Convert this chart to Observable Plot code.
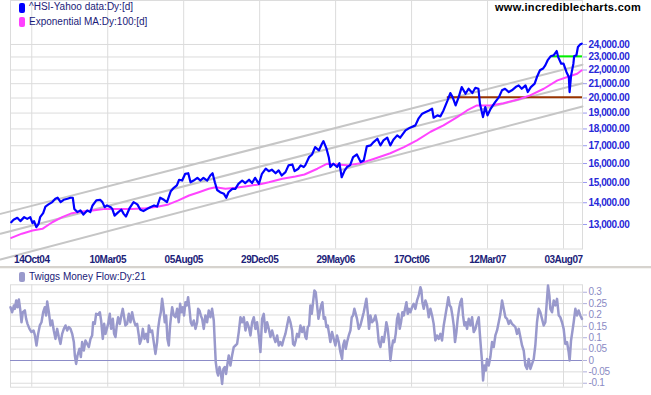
<!DOCTYPE html>
<html><head><meta charset="utf-8">
<script src="https://cdn.jsdelivr.net/npm/d3@7"></script>
<script src="https://cdn.jsdelivr.net/npm/@observablehq/plot@0.6"></script>
<style>
body{margin:0;background:#fff;width:651px;height:395px;overflow:hidden;position:relative;font-family:"Liberation Sans",Arial,sans-serif;}
#main{position:absolute;left:0;top:0;}
#tmfp{position:absolute;left:0;top:276px;}
.leg{position:absolute;font-size:10px;line-height:12px;color:#1a1a78;white-space:nowrap;z-index:5;}
.box{position:absolute;width:6px;height:10px;border-radius:2px;z-index:5;}
#wm{position:absolute;left:495px;top:1px;font-size:11px;line-height:13px;font-weight:bold;letter-spacing:0.3px;color:#000;z-index:5;}
#sep{position:absolute;left:0;top:266px;width:651px;height:2px;background:#d6d3ce;border-bottom:1px solid #f4f3f0;z-index:5;}
#main g[aria-label="y-axis tick label"] text{letter-spacing:-0.4px;}
#main g[aria-label="x-axis tick label"] text{letter-spacing:-0.5px;}
#tmfp g[aria-label="y-axis tick label"] text{letter-spacing:-0.3px;}
</style></head><body>
<div id="main"></div>
<div id="tmfp"></div>
<div id="sep"></div>
<div id="wm">www.incrediblecharts.com</div>
<div class="box" style="left:19px;top:3px;background:#0000ff"></div>
<div class="leg" style="left:29px;top:1px">^HSI-Yahoo data:Dy:[d]</div>
<div class="box" style="left:19px;top:17px;background:#ff40ff"></div>
<div class="leg" style="left:29px;top:15.5px">Exponential MA:Dy:100:[d]</div>
<div class="box" style="left:19px;top:272px;background:#9a9acc"></div>
<div class="leg" style="left:29px;top:270.5px">Twiggs Money Flow:Dy:21</div>
<script>
// ---- data (x = trading-day index) ----
const dayDomain = [0, 753];
const dateTicks = [28,128,228,328,428,528,628,728];
const dateLabels = ["14Oct04","10Mar05","05Aug05","29Dec05","29May06","17Oct06","12Mar07","03Aug07"];
const priceTicks = [13000,14000,15000,16000,17000,18000,19000,20000,21000,22000,23000,24000];
const tmfTicks = [-0.1,-0.05,0,0.05,0.1,0.15,0.2,0.25,0.3];

const price = [[1,13100],[4,13210],[9,13300],[13,13150],[18,13330],[22,13250],[26,13330],[29,13060],[31,13150],[34,12880],
[37,13030],[39,13330],[43,13510],[46,13820],[50,13920],[55,14030],[59,14190],[62,14240],[66,14030],[70,14140],
[75,14190],[79,14240],[82,14240],[84,13710],[88,13560],[92,13640],[96,13450],[101,13640],[105,13560],[108,13870],
[113,14110],[118,14140],[121,14030],[124,13790],[127,13870],[132,13790],[134,13710],[137,13400],[142,13560],[146,13670],
[149,13480],[152,13360],[157,13760],[162,14030],[167,13920],[171,13670],[175,13610],[180,13710],[184,13790],[189,13870],
[193,13820],[197,14240],[202,14140],[206,14030],[211,14560],[215,14730],[219,14850],[222,15140],[226,15100],[230,15450],
[234,15480],[237,15010],[241,15100],[246,15240],[250,15100],[254,15240],[259,15100],[263,15360],[266,15480],[269,15010],
[272,14620],[276,14510],[281,14430],[284,14240],[287,14510],[292,14680],[296,14680],[300,14930],[305,15100],[309,14970],
[314,15140],[318,14970],[322,15240],[327,14930],[331,15450],[336,15720],[340,15590],[344,15670],[349,15480],[353,15630],
[357,15360],[362,15540],[366,15900],[371,15950],[374,15590],[379,15720],[382,15900],[386,15810],[388,15900],[393,16350],
[397,16500],[401,16920],[406,16730],[410,17110],[412,17270],[416,16830],[419,16350],[421,15810],[425,15990],[430,15810],
[433,16020],[436,15270],[440,15630],[443,15810],[447,15900],[451,16350],[456,16500],[461,16080],[465,16160],[469,16960],
[474,17020],[478,17210],[483,17410],[487,17020],[491,17310],[496,17470],[500,17020],[504,17350],[509,17610],[513,17470],
[520,17910],[526,18080],[533,18220],[537,18640],[542,18960],[546,19060],[551,19170],[555,19280],[557,18700],[562,18850],
[566,18790],[570,19170],[575,19790],[579,20340],[582,20060],[586,19500],[590,20060],[594,20760],[599,20290],[603,20640],
[608,20340],[612,20710],[616,20640],[618,19610],[622,18740],[625,19390],[628,18850],[632,19280],[638,19720],[643,20060],
[647,20530],[651,20640],[656,20410],[660,20530],[665,20760],[669,20880],[673,20640],[678,20880],[681,20410],[685,20760],
[690,21000],[693,21480],[697,21980],[701,22110],[704,22350],[707,22730],[711,23050],[715,23130],[719,23470],[721,22990],
[725,22480],[728,22480],[732,21840],[735,21480],[736,20410],[738,21600],[741,22480],[742,23050],[745,23130],[747,23790],
[750,24010],[752,24060]];

const ema100 = [[1,12420],[15,12600],[29,12740],[42,12810],[55,13100],[68,13330],[81,13510],[94,13590],[108,13640],[125,13710],
[142,13710],[160,13710],[178,13740],[195,13820],[208,13920],[221,14110],[235,14350],[248,14510],[261,14680],[270,14760],
[283,14680],[296,14730],[309,14800],[327,14900],[340,15010],[358,15190],[375,15310],[387,15415],[404,15720],[417,15990],
[430,15950],[443,15900],[461,16020],[478,16250],[500,16570],[518,16920],[535,17310],[553,17830],[570,18220],[588,18740],
[601,19170],[614,19500],[632,19500],[649,19650],[667,19880],[684,20180],[702,20640],[720,21240],[733,21480],[746,21720],
[752,21980]];

const channelDays = [-13.2, 753];
const channelUpper = [13480, 22400];
const channelMiddle = [12600, 21030];
const channelLower = [11540, 19430];
const supportLevel = [20060];
const supportFrom = 575;
const resistanceLevel = [23050];
const resistanceFrom = 713;

const tmf = [[0,0.234],[2.2,0.212],[4.4,0.242],[5.7,0.227],[7.5,0.264],[9.2,0.234],[11,0.268],[12.7,0.227],[14.5,0.168],[16.2,0.212],
[18.9,0.220],[20.6,0.183],[22.4,0.161],[25,0.139],[27.6,0.125],[30.3,0.132],[32,0.113],[34.2,0.066],[36.4,0.117],[38.6,0.154],
[40.8,0.168],[43,0.212],[45.2,0.234],[46.9,0.198],[48.3,0.259],[50.5,0.212],[52.6,0.154],[54.8,0.176],[57,0.132],[59.2,0.095],
[61.4,0.139],[63.6,0.103],[65.8,0.073],[68,0.117],[70.2,0.139],[72.4,0.154],[74.6,0.132],[76.8,0.147],[79,0.139],[81.2,0.117],
[83.4,0.081],[84.7,0.022],[86.4,-0.015],[88.2,0.022],[90.8,0.051],[92.6,0.015],[94.3,0.081],[96.5,0.044],[98.7,0.088],[100.9,0.073],
[103.1,0.059],[105.3,0.095],[107.5,0.110],[108.8,0.168],[111,0.161],[112.7,0.205],[115.4,0.201],[117.6,0.212],[119.3,0.176],[121.5,0.095],
[123.3,0.161],[125,0.117],[126.8,0.139],[128.5,0.161],[130.7,0.205],[132.5,0.139],[134.7,0.183],[136.4,0.117],[138.2,0.103],[139.9,0.154],
[141.7,0.190],[143.9,0.161],[146.1,0.201],[147.8,0.227],[149.6,0.190],[151.3,0.154],[153.5,0.161],[155.7,0.205],[157.9,0.168],[160.1,0.212],
[162.3,0.176],[164.5,0.154],[166.7,0.161],[168.9,0.110],[170.2,0.073],[172.4,0.095],[174.2,0.139],[176.4,0.095],[178.6,0.117],[180.7,0.081],
[182.1,0.154],[184.3,0.125],[186.4,0.132],[188.6,0.081],[190.8,0.029],[193,0.081],[194.3,0.139],[196.1,0.183],[197.9,0.212],[199.6,0.271],
[201.4,0.227],[203.1,0.168],[204.9,0.198],[206.6,0.095],[208.4,0.066],[210.1,0.154],[211.5,0.198],[212.8,0.234],[215,0.198],[217.2,0.190],
[219.4,0.227],[221.5,0.168],[223.3,0.249],[225.1,0.212],[226.8,0.234],[228.5,0.198],[230.3,0.256],[232.1,0.242],[233.8,0.278],[235.6,0.227],
[237.3,0.168],[239.1,0.154],[241.3,0.176],[243.5,0.139],[245.7,0.168],[247,0.227],[248.7,0.220],[250.5,0.198],[252.3,0.183],[254.4,0.139],
[256.6,0.198],[258.8,0.168],[261,0.220],[263.2,0.190],[265.4,0.227],[267.6,0.176],[268.9,0.081],[270.2,-0.007],[272,-0.051],[273.3,-0.066],
[275.1,-0.029],[276.8,-0.051],[278.6,-0.103],[280.3,-0.037],[282.1,-0.029],[283.8,-0.059],[285.6,-0.015],[287.3,0.022],[289.5,-0.022],[291.7,0.022],
[293.9,0.059],[296.1,0.066],[298.3,0.073],[300.5,0.125],[302.7,0.190],[304.9,0.168],[307.1,0.190],[309.3,0.132],[311.5,0.168],[313.7,0.147],
[315.9,0.110],[318.1,0.168],[320.3,0.190],[322.4,0.139],[324.6,0.168],[326.8,0.110],[329,0.037],[331.2,0.183],[333.4,0.205],[335.6,0.125],
[337.8,0.168],[340,0.139],[342.2,0.103],[344.4,0.132],[346.6,0.103],[348.8,0.081],[351,0.110],[353.2,0.066],[355.3,0.081],[357.5,0.066],
[359.7,0.095],[361.9,0.117],[364.1,0.154],[366.3,0.190],[368.5,0.168],[370.7,0.132],[372,0.073],[373.8,0.066],[375.5,0.088],[377.3,0.117],
[379.5,0.103],[381.7,0.154],[383.9,0.125],[386,0.147],[388.2,0.103],[389.6,0.095],[391.3,0.147],[393.1,0.154],[394.8,0.242],[396.6,0.205],
[398.3,0.256],[400.1,0.308],[401.8,0.300],[403.6,0.242],[405.4,0.183],[407.1,0.212],[408.9,0.242],[410.6,0.256],[412.4,0.183],[414.1,0.190],
[415.9,0.147],[417.6,0.154],[419.4,0.117],[421.1,0.081],[423.3,0.125],[425.5,0.095],[427.7,0.066],[429.9,0.110],[432.1,0.081],[434.3,0.037],
[436.5,0.007],[437.8,0.066],[439.6,0.088],[441.3,0.051],[443.1,0.081],[445.3,0.110],[447.5,0.132],[449.2,0.190],[451,0.198],[452.7,0.227],
[454.5,0.205],[456.2,0.183],[458.4,0.139],[460.6,0.154],[462.8,0.183],[465,0.212],[467.2,0.249],[468.5,0.271],[470.3,0.212],[472,0.139],
[473.8,0.198],[476,0.168],[478.2,0.176],[480.4,0.198],[482.6,0.161],[484.8,0.081],[487,0.059],[489.1,0.103],[491.3,0.081],[493.5,0.132],
[494.8,0.168],[496.6,0.139],[498.4,0.081],[500.1,0.000],[501.9,0.051],[503.6,0.088],[505.4,0.081],[507.1,0.117],[508.9,0.183],[510.6,0.205],
[512.4,0.139],[514.1,0.168],[515.9,0.212],[517.7,0.198],[519.4,0.227],[521.2,0.256],[522.9,0.205],[524.7,0.227],[526.4,0.212],[528.6,0.234],
[530.8,0.249],[533,0.227],[535.2,0.264],[537.4,0.286],[539.6,0.322],[540.9,0.308],[542.2,0.256],[544,0.227],[546.2,0.264],[548.4,0.242],
[550.6,0.190],[552.8,0.227],[555,0.198],[557.1,0.161],[559.3,0.088],[561.5,0.110],[563.7,0.095],[565.9,0.117],[568.1,0.088],[570.3,0.154],
[572.5,0.198],[574.7,0.242],[576.4,0.278],[578.2,0.242],[579.9,0.234],[581.7,0.198],[583.5,0.154],[585.2,0.081],[587,0.125],[588.7,0.183],
[590.5,0.227],[592.2,0.256],[594,0.271],[595.7,0.198],[597.5,0.154],[599.3,0.168],[601,0.139],[603.2,0.183],[605.4,0.154],[607.6,0.190],
[609.8,0.125],[612,0.139],[614.2,0.168],[616.4,0.190],[617.7,0.125],[619.4,0.051],[620.8,-0.007],[622.1,-0.088],[623.8,-0.022],[625.6,-0.044],
[627.3,0.007],[629.5,-0.022],[631.7,0.015],[633.9,0.081],[636.1,0.059],[638.3,0.110],[640.5,0.132],[642.7,0.168],[644.9,0.205],[647.1,0.264],
[649.3,0.227],[651.5,0.190],[653.7,0.183],[655.8,0.161],[658,0.176],[660.2,0.161],[662.4,0.154],[664.6,0.147],[666.8,0.117],[669,0.139],
[671.2,0.103],[673.4,0.066],[675.6,0.044],[677.8,-0.022],[680,-0.037],[682.2,0.007],[684.4,-0.037],[686.6,-0.015],[688.8,0.007],[690.9,0.066],
[693.1,0.168],[695.3,0.227],[697.5,0.212],[699.7,0.183],[701.9,0.154],[704.1,0.168],[706.3,0.271],[707.6,0.330],[709.4,0.286],[710.7,0.227],
[712.9,0.212],[715.1,0.264],[717.3,0.242],[719.5,0.271],[721.7,0.198],[723.8,0.190],[726,0.168],[728.2,0.139],[730.4,0.073],[732.6,0.081],
[734.8,0.037],[736.1,0.000],[737.9,0.088],[739.2,0.117],[741.4,0.168],[743.6,0.227],[745.8,0.198],[747.9,0.220],[750.1,0.198],[752.3,0.183]];

// ---- styling ----
const font = "'Liberation Sans', Arial, sans-serif";
const gridColor = "#dcdcdc";

const mainChart = Plot.plot({
  width: 651, height: 266,
  marginLeft: 10, marginRight: 69, marginTop: 0, marginBottom: 17.5,
  style: {background: "transparent", fontFamily: font, fontSize: "10px", overflow: "visible"},
  x: {domain: dayDomain, axis: null},
  y: {type: "log", domain: [11959, 27878], axis: null},
  marks: [
    Plot.gridY(priceTicks, {stroke: gridColor, strokeOpacity: 1}),
    Plot.gridX(dateTicks, {stroke: gridColor, strokeOpacity: 1}),
    Plot.frame({stroke: gridColor}),
    Plot.line(channelDays, {x: d => d, y: (d, i) => channelUpper[i], stroke: "#c6c6c6", strokeWidth: 2}),
    Plot.line(channelDays, {x: d => d, y: (d, i) => channelMiddle[i], stroke: "#c6c6c6", strokeWidth: 2}),
    Plot.line(channelDays, {x: d => d, y: (d, i) => channelLower[i], stroke: "#c6c6c6", strokeWidth: 2}),
    Plot.ruleY(supportLevel, {x1: supportFrom, x2: dayDomain[1], stroke: "#993300", strokeWidth: 2}),
    Plot.ruleY(resistanceLevel, {x1: resistanceFrom, x2: dayDomain[1], stroke: "#00f000", strokeWidth: 2}),
    Plot.line(ema100, {x: d => d[0], y: d => d[1], stroke: "#ff44ff", strokeWidth: 2}),
    Plot.line(price, {x: d => d[0], y: d => d[1], stroke: "#0000ff", strokeWidth: 2.2}),
    Plot.axisY(priceTicks, {anchor: "right", tickFormat: d3.format(",.2f"), tickSize: 4, tickPadding: 2,
      fill: "#2828d8", stroke: "#9a9af0", fontWeight: "bold"}),
    Plot.axisX(dateTicks, {tickSize: 0, tickPadding: 6.5, tickFormat: d => dateLabels[dateTicks.indexOf(d)],
      fill: "#1c2278", fontWeight: "bold"})
  ]
});
document.getElementById("main").append(mainChart);

const tmfChart = Plot.plot({
  width: 651, height: 119,
  marginLeft: 10, marginRight: 69, marginTop: 8.3, marginBottom: 8.3,
  style: {background: "transparent", fontFamily: font, fontSize: "10px", overflow: "visible"},
  x: {domain: dayDomain, axis: null},
  y: {domain: [-0.1174, 0.3327], axis: null},
  marks: [
    Plot.gridY(tmfTicks.filter(d => d !== 0), {stroke: gridColor, strokeOpacity: 1}),
    Plot.gridX(dateTicks, {stroke: gridColor, strokeOpacity: 1}),
    Plot.frame({stroke: gridColor}),
    Plot.ruleY([0], {stroke: "#8c8cc8", strokeWidth: 1.2}),
    Plot.line(tmf, {x: d => d[0], y: d => d[1], stroke: "#9999cc", strokeWidth: 2.5}),
    Plot.axisY(tmfTicks, {anchor: "right", tickFormat: d => String(d), tickSize: 4, tickPadding: 2,
      fill: "#8a8ac4", stroke: "#b0b0dc"})
  ]
});
document.getElementById("tmfp").append(tmfChart);
</script>
</body></html>
